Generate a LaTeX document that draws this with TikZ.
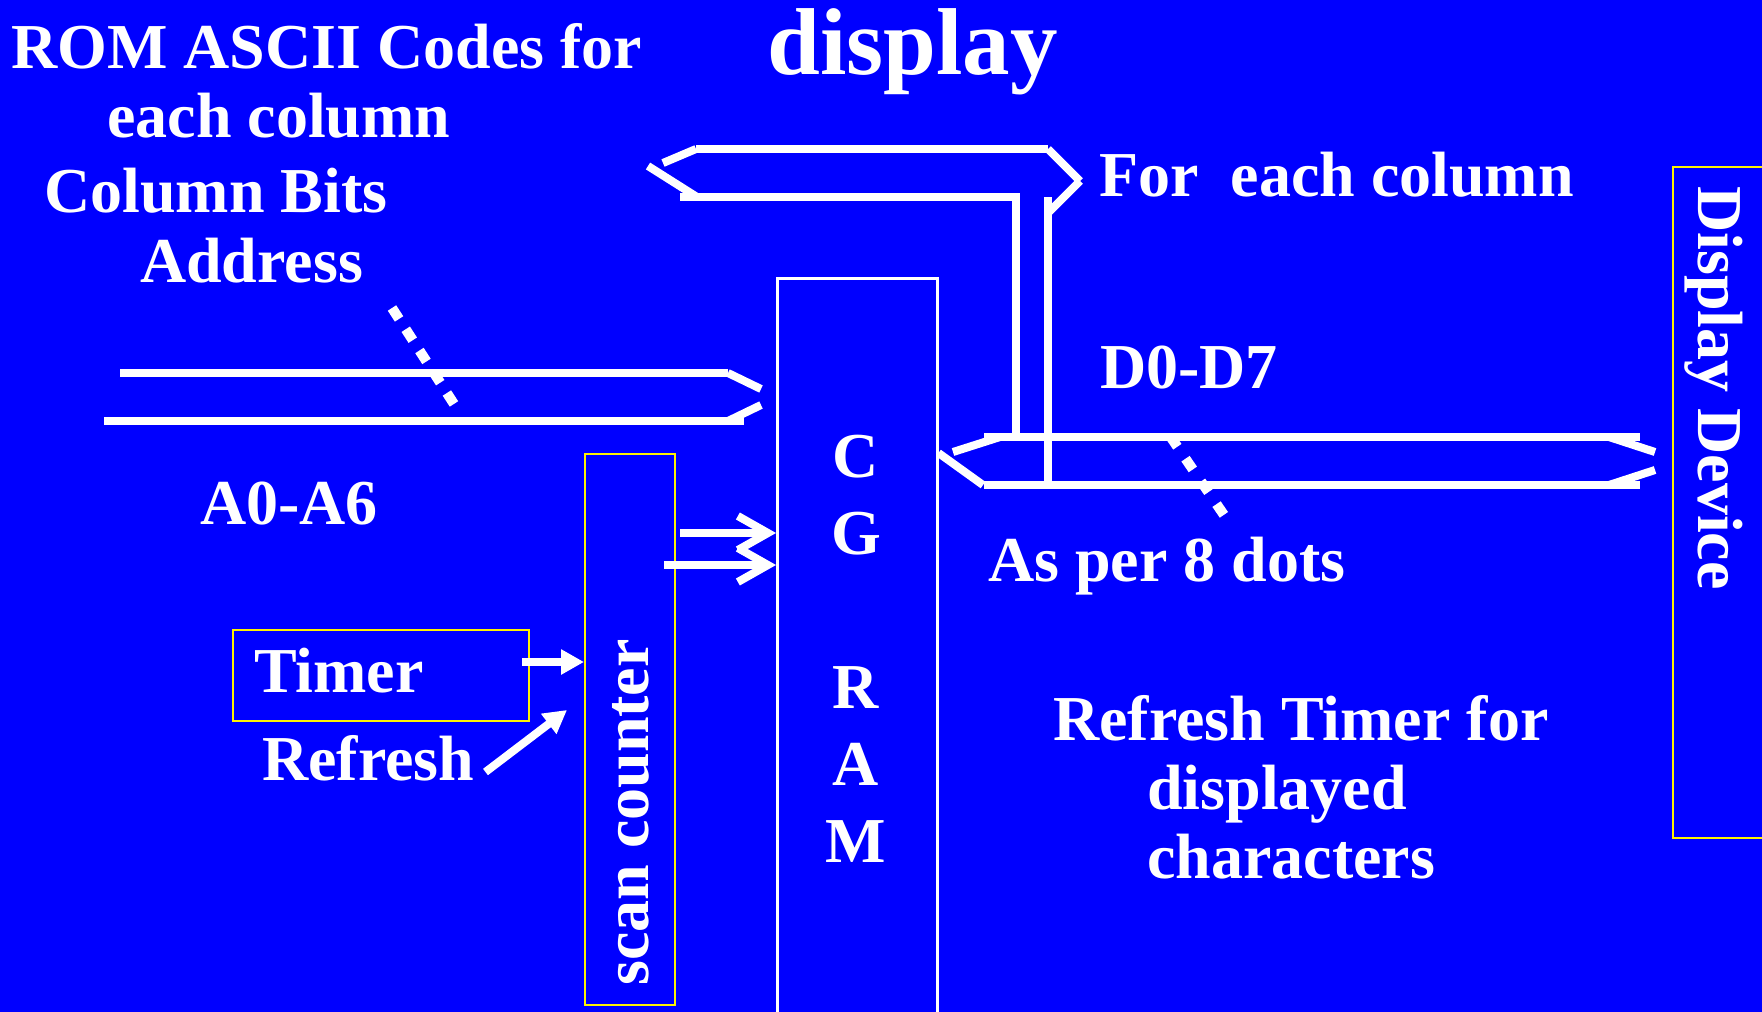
\documentclass[tikz,border=0pt]{standalone}
\usepackage{fontspec}
\setmainfont{Liberation Serif}
\usetikzlibrary{arrows.meta}
\definecolor{slideblue}{RGB}{0,0,255}
\begin{document}
\begin{tikzpicture}[x=1pt,y=-1pt,
  lbl/.style={text=white, inner sep=0pt, font=\fontsize{64}{70}\selectfont\bfseries},
  bigl/.style={text=white, inner sep=0pt, font=\fontsize{95}{100}\selectfont\bfseries},
  ybox/.style={draw=yellow, line width=2pt, inner sep=0pt},
  wbox/.style={draw=white, line width=2.5pt, inner sep=0pt},
  bus/.style={draw=white, line width=8pt, line cap=butt},
  dots/.style={draw=white, line width=10pt, line cap=butt},
  arr/.style={draw=white, line width=8pt, -{Triangle[length=23pt,width=24pt]}},
  barb/.style={draw=white, line width=8pt, -{Straight Barb[length=30pt,width=34pt]}}]
\useasboundingbox[fill=slideblue] (0,0) rectangle (1762,1012);

% ---- boxes ----
\node[wbox, anchor=north west, minimum width=160pt, minimum height=770pt] (cgram) at (776,277) {};
\node[ybox, anchor=north west, minimum width=90pt, minimum height=551pt] (scan) at (584,453) {};
\node[ybox, anchor=north west, minimum width=296pt, minimum height=91pt] (timer) at (232,629) {};
\node[ybox, anchor=north west, minimum width=110pt, minimum height=671pt] (disp) at (1672,166) {};

% ---- texts ----
\node[bigl, anchor=base west] (title) at (767,74) {display};
\node[lbl, anchor=base west] (rom1) at (11,68) {ROM ASCII Codes for};
\node[lbl, anchor=base west] (rom2) at (107,137) {each column};
\node[lbl, anchor=base west] (rom3) at (44,212) {Column Bits};
\node[lbl, anchor=base west] (rom4) at (140,282) {Address};
\node[lbl, anchor=base west] (foreach) at (1099,196) {For\ \ each column};
\node[lbl, anchor=base west] (dlbl) at (1100,388) {D0-D7};
\node[lbl, anchor=base west] (albl) at (200,524) {A0-A6};
\node[lbl, anchor=base west] (dots8) at (988,581) {As per 8 dots};
\node[lbl, anchor=base west] (rt1) at (1053,740) {Refresh Timer for};
\node[lbl, anchor=base west] (rt2) at (1147,809) {displayed};
\node[lbl, anchor=base west] (rt3) at (1147,878) {characters};
\node[lbl, anchor=base west] (timertxt) at (254,692) {Timer};
\node[lbl, anchor=base west] (refreshtxt) at (262,780) {Refresh};
\node[lbl, anchor=base west, rotate=90] (scantxt) at (648,986) {scan counter};
\node[lbl, anchor=base west, rotate=-90] (disptxt) at (1698,186) {Display Device};
\node[lbl, anchor=base] (cgramtxt) at (856,477)
  {\fontsize{64}{77}\selectfont\begin{tabular}[t]{@{}c@{}}C\\G\\ \\R\\A\\M\end{tabular}};

% ---- address bus A0-A6 into the CG RAM ----
\draw[bus] (120,373) -- (728,373);
\draw[bus] (728,373) -- (761,389);
\draw[bus] (761,405) -- (728,421);
\draw[bus] (104,421) -- (744,421);
\draw[dots, dash pattern=on 13pt off 12.3pt] (392,308) -- (454,404);

% ---- column bus from the ROM, joining the data bus ----
\draw[bus] (696,149) -- (1048,149);
\draw[bus] (696,149) -- (663,163);
\draw[bus] (648,166) -- (697,197);
\draw[bus] (680,197) -- (1020,197);
\draw[bus] (1016,197) -- (1016,437);
\draw[bus] (1048,149) -- (1080,181);
\draw[bus] (1080,181) -- (1048,213);
\draw[bus] (1048,197) -- (1048,485);

% ---- data bus D0-D7 to the display ----
\draw[bus] (984,437) -- (1640,437);
\draw[bus] (984,485) -- (1640,485);
\draw[bus] (1000,437) -- (953,452);
\draw[bus] (cgram.east |- 0,453) -- (983,485);
\draw[bus] (1609,437) -- (1655,452);
\draw[bus] (1655,470) -- (1609,485);
\draw[dots, dash pattern=on 13pt off 14.5pt] (1170,436) -- (1224,515);

% ---- arrows ----
\coordinate (tA) at ([xshift=-8pt,yshift=13.5pt]timer.east);
\draw[arr] (tA) -- (tA -| scan.west);
\coordinate (rS) at ([xshift=11pt,yshift=8pt]refreshtxt.base east);
\coordinate (rT) at ([xshift=-17pt,yshift=19.5pt]scan.west);
\draw[arr] (rS) -- (rT);
\coordinate (s1) at (680,533);
\coordinate (s2) at (664,565);
\draw[barb] (s1) -- (s1 -| cgram.west);
\draw[barb] (s2) -- (s2 -| cgram.west);
\end{tikzpicture}
\end{document}
